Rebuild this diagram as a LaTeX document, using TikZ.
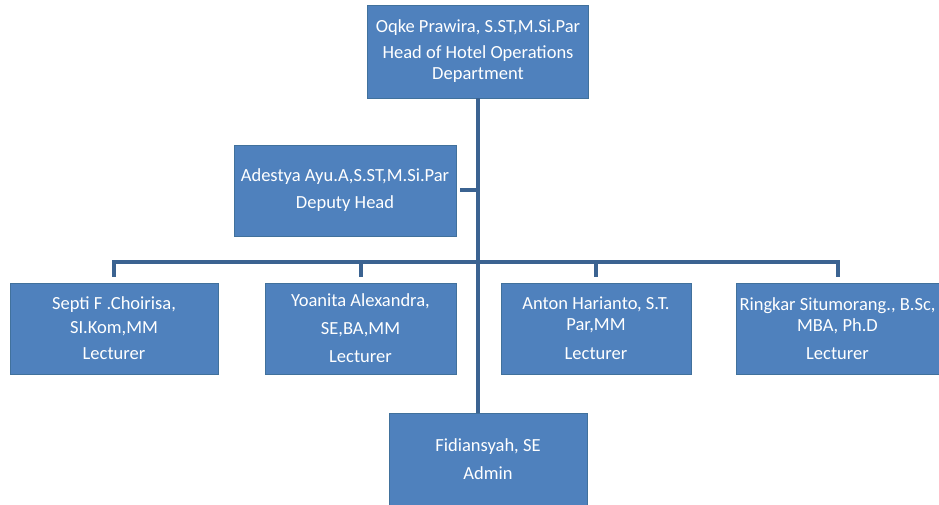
\documentclass[tikz,border=0pt]{standalone}
\usepackage{fontspec}
\setmainfont{Carlito}
\usepackage{xcolor}
\usetikzlibrary{positioning}
\definecolor{boxblue}{HTML}{4F81BD}
\definecolor{boxedge}{HTML}{41719C}
\definecolor{linkblue}{HTML}{3B6391}

\begin{document}
\begin{tikzpicture}[x=1pt,y=-1pt,
    staff/.style={rectangle, fill=boxblue, draw=boxedge, line width=0.6pt,
      text=white, align=center, inner sep=0pt,
      font=\fontsize{18.5}{21}\selectfont},
    link/.style={draw=linkblue, line width=4pt}]
      \useasboundingbox (0,0) rectangle (939,505);

      \node[staff, minimum width=221, minimum height=93] (head) at (478,51.5)
        {Oqke Prawira, S.ST,M.Si.Par\\[5pt]Head of Hotel Operations\\Department};
      \node[staff, minimum width=222, minimum height=91] (deputy) at (345,190.5)
        {Adestya Ayu.A,S.ST,M.Si.Par\\[6pt]Deputy Head};
      \node[staff, minimum width=208, minimum height=91] (lect1) at (114,328.5)
        {Septi F .Choirisa,\\[3pt]SI.Kom,MM\\[5pt]Lecturer};
      \node[staff, minimum width=191, minimum height=91] (lect2) at (360.5,328.5)
        {Yoanita Alexandra,\\[7pt]SE,BA,MM\\[7pt]Lecturer};
      \node[staff, minimum width=190, minimum height=91] (lect3) at (596,328.5)
        {Anton Harianto, S.T.\\Par,MM\\[8pt]Lecturer};
      \node[staff, minimum width=203, minimum height=91] (lect4) at (837.5,328.5)
        {Ringkar Situmorang., B.Sc,\\MBA, Ph.D\\[7pt]Lecturer};
      \node[staff, minimum width=198, minimum height=92] (admin) at (488,459)
        {Fidiansyah, SE\\[7pt]Admin};

      \coordinate (bar) at (478,262);

      \draw[link] (head.south) -- (head.south |- admin.north);
      \draw[link] ([xshift=4pt]deputy.east) -- (deputy.east -| bar);
      \draw[link] ([yshift=6pt]lect1.north) |- (bar) -| ([yshift=6pt]lect4.north);
      \draw[link] ([yshift=6pt]lect2.north) -- (lect2.north |- bar);
      \draw[link] ([yshift=6pt]lect3.north) -- (lect3.north |- bar);

    \end{tikzpicture}
\end{document}
